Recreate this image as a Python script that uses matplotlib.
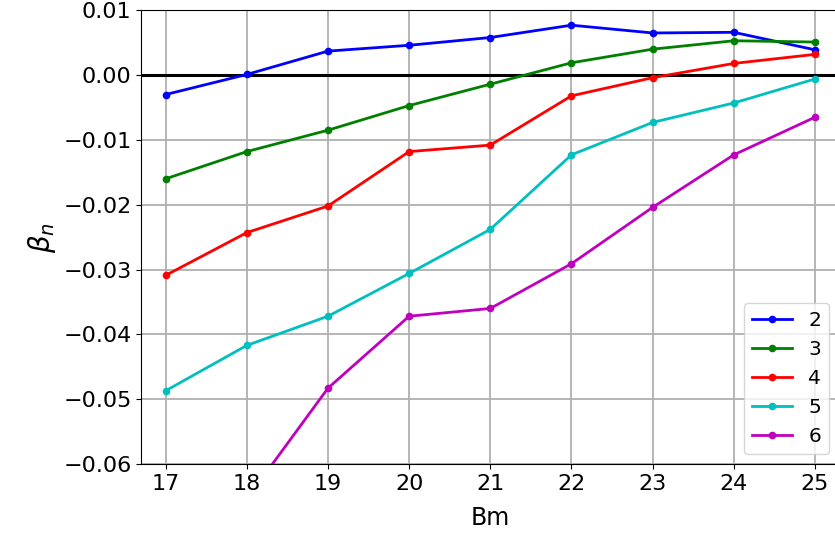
import matplotlib
matplotlib.use("Agg")
import matplotlib.pyplot as plt

bm = [17, 18, 19, 20, 21, 22, 23, 24, 25]
beta_2 = [-0.0030, 0.0001, 0.0037, 0.0046, 0.0058, 0.0077, 0.0065, 0.0066, 0.0039]
beta_3 = [-0.0160, -0.0118, -0.0085, -0.0047, -0.0014, 0.0019, 0.0040, 0.0053, 0.0051]
beta_4 = [-0.0309, -0.0243, -0.0202, -0.0118, -0.0108, -0.0032, -0.0004, 0.0018, 0.0032]
beta_5 = [-0.0487, -0.0417, -0.0372, -0.0306, -0.0238, -0.0123, -0.0073, -0.0043, -0.0006]
beta_6 = [-0.0830, -0.0654, -0.0483, -0.0372, -0.0360, -0.0291, -0.0204, -0.0123, -0.0065]

series = [("2", beta_2, "b"), ("3", beta_3, "g"), ("4", beta_4, "r"),
          ("5", beta_5, "c"), ("6", beta_6, "m")]

fig = plt.figure(figsize=(8.35, 5.41), dpi=100)
ax = fig.add_axes([0.1692, 0.1423, 0.836, 0.8387])

for label, vals, color in series:
    ax.plot(bm, vals, color=color, marker="o", markersize=4.5, linewidth=2, label=label)

ax.axhline(0, color="black", linewidth=2.2, zorder=1.5)
ax.set_xlim(16.7, 25.3)
ax.set_ylim(-0.06, 0.01)
ax.set_xticks(bm)
ax.set_yticks([0.01, 0.0, -0.01, -0.02, -0.03, -0.04, -0.05, -0.06])
ax.grid(True, color="#b0b0b0", linewidth=1.3)
ax.set_axisbelow(True)
ax.tick_params(labelsize=16)
ax.set_xlabel("Bm", fontsize=17, labelpad=9)
ax.set_ylabel(r"$\beta_n$", fontsize=20)
ax.legend(loc="lower right", fontsize=14.5)

fig.savefig("out.png", dpi=100)
